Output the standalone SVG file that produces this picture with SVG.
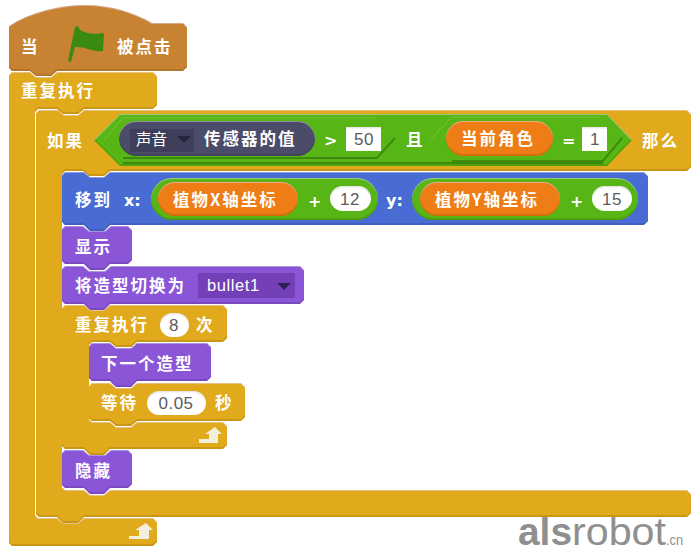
<svg xmlns="http://www.w3.org/2000/svg" width="700" height="554" viewBox="0 0 700 554">
<style>
.b{filter:url(#bev)}
.gold{fill:#E1A91A}.purple{fill:#8A55D7}.blue{fill:#4A6CD4}.hat{fill:#C88330}.green{fill:#59B512}.orange{fill:#EE7D16}
.dark{fill:#4B4B6B}.dd{fill:#3F3F5C}
.t{font-family:"Noto Sans CJK SC","Liberation Sans",sans-serif;font-weight:700;font-size:16.5px;letter-spacing:2px;fill:#fff}
.n{font-family:"Liberation Sans","DejaVu Sans",sans-serif;font-size:17px;fill:#5c5c5c;text-anchor:middle;letter-spacing:.5px}
.sm{font-family:"Noto Sans CJK SC","Liberation Sans",sans-serif;font-size:15.5px;fill:#fff}
.lat{font-family:"DejaVu Sans","Liberation Sans",sans-serif;font-weight:700;font-size:16px;fill:#fff}
.i{fill:#fff;filter:url(#ins)}
.sd{fill:none;stroke:#3f8a0c;stroke-width:2}
.lt{fill:none;stroke:#7cc83e;stroke-width:1;opacity:.8}
.ar{fill:#F4EFDC}
</style>
<defs>
<filter id="bev" x="-2%" y="-5%" width="104%" height="110%">
<feOffset in="SourceAlpha" dy="-2" result="u"/>
<feComposite in="SourceAlpha" in2="u" operator="out" result="lo"/>
<feFlood flood-color="#000" flood-opacity=".22"/><feComposite in2="lo" operator="in" result="loS"/>
<feOffset in="SourceAlpha" dy="1" result="d"/>
<feComposite in="SourceAlpha" in2="d" operator="out" result="hi"/>
<feFlood flood-color="#fff" flood-opacity=".22"/><feComposite in2="hi" operator="in" result="hiS"/>
<feMerge><feMergeNode in="SourceGraphic"/><feMergeNode in="loS"/><feMergeNode in="hiS"/></feMerge>
</filter>
<filter id="ins" x="-5%" y="-10%" width="110%" height="120%">
<feOffset in="SourceAlpha" dy="1.5" result="d"/>
<feComposite in="SourceAlpha" in2="d" operator="out" result="hi"/>
<feFlood flood-color="#000" flood-opacity=".2"/><feComposite in2="hi" operator="in" result="hiS"/>
<feMerge><feMergeNode in="SourceGraphic"/><feMergeNode in="hiS"/></feMerge>
</filter>
</defs>
<rect width="700" height="554" fill="#fff"/>

<g id="watermark">
<text x="518" y="545" font-family="'Liberation Sans',sans-serif" font-size="38" font-weight="700" fill="#8f8f8f" textLength="54" lengthAdjust="spacingAndGlyphs">als</text>
<text x="572" y="545" font-family="'Liberation Sans',sans-serif" font-size="38" fill="#8f8f8f" textLength="94" lengthAdjust="spacingAndGlyphs">robot</text>
<text x="666" y="545" font-family="'Liberation Sans',sans-serif" font-size="14" fill="#8f8f8f" textLength="17" lengthAdjust="spacingAndGlyphs">.cn</text>
</g>

<g id="forever">
<path class="gold b" d="M12,72H30L36,77H51L57,72H153L157,76V105L153,109H84L78,114H63L57,109H38L35,112V515L38,518H57L63,523H78L84,518H153L157,522V542L153,546H12L9,543V75Z"/>
<text class="t" x="21" y="97">重复执行</text>
<path class="ar" d="M129,536H139V530H135L146,523L153,530H149V539H129Z"/>
</g>

<g id="if-block">
<path class="gold b" d="M39,110H58L64,115H78L84,110H687L691,114V167L687,171H110L104,176H89L83,171H65L62,174V487L65,490H84L90,495H104L110,490H687L691,494V513L687,517H84L78,523H63L57,517H39L36,514V113Z"/>
<text class="t" x="47" y="147">如果</text>
<text class="t" x="642" y="147">那么</text>
</g>

<g id="condition">
<path class="green b" d="M120,114H607L632,140L607,166H120L94,140Z"/>
<path class="lt" d="M104,140L123,118H375M430,140L452,117H600"/>
<path class="sd" d="M123,158H377L395,138M452,161H603L622,138"/>
<path class="sd" d="M123,163H603"/>
<rect class="dark b" x="119" y="121" width="196" height="35" rx="17.5"/>
<rect class="dd" x="130" y="129" width="64" height="23"/>
<text class="sm" x="136" y="145">声音</text>
<path fill="#26263a" d="M177,136H191L184,143Z"/>
<text class="t" x="204" y="145">传感器的值</text>
<text class="lat" x="324" y="146" font-size="18">&gt;</text>
<rect class="i" x="346" y="127" width="35" height="24"/>
<text class="n" x="364" y="145">50</text>
<text class="t" x="406" y="146">且</text>
<rect class="orange b" x="446" y="121" width="107" height="35" rx="17.5"/>
<text class="t" x="461" y="145">当前角色</text>
<text class="lat" x="562" y="146">=</text>
<rect class="i" x="582" y="127" width="25" height="24"/>
<text class="n" x="595" y="145">1</text>
</g>

<g id="hide">
<path class="purple b" d="M65,450H83L89,455H105L111,450H128L132,454V484L128,488H110L104,494H90L84,488H65L62,485V453Z"/>
<text class="t" x="75" y="477">隐藏</text>
</g>

<g id="repeat">
<path class="gold b" d="M65,305H84L90,310H104L110,305H223L227,309V338L223,342H137L131,347H116L110,342H92L89,345V419L92,422H110L116,427H131L137,422H223L227,426V445L223,449H110L104,455H90L84,449H65L62,446V308Z"/>
<text class="t" x="75" y="331">重复执行</text>
<rect class="i" x="160" y="313" width="29" height="24" rx="12"/>
<text class="n" x="174" y="331">8</text>
<text class="t" x="196" y="331">次</text>
<path class="ar" d="M199,439H209V434H205L215,427L222,434H218V443H199Z"/>
</g>

<g id="wait">
<path class="gold b" d="M92,383H110L116,388H131L137,383H241L245,387V417L241,421H137L131,426H116L110,421H92L89,418V386Z"/>
<text class="t" x="101" y="409">等待</text>
<rect class="i" x="147" y="391" width="59" height="24" rx="12"/>
<text class="n" x="176" y="409">0.05</text>
<text class="t" x="215" y="409">秒</text>
</g>

<g id="next-costume">
<path class="purple b" d="M92,343H110L116,348H131L137,343H207L211,347V377L207,381H137L131,387H116L110,381H92L89,378V346Z"/>
<text class="t" x="101" y="370">下一个造型</text>
</g>

<g id="switch-costume">
<path class="purple b" d="M65,266H83L89,271H105L111,266H300L304,270V300L300,304H110L104,310H90L84,304H65L62,301V269Z"/>
<text class="t" x="75" y="292">将造型切换为</text>
<rect x="198" y="273" width="97" height="25" fill="#7340B8"/>
<text x="207" y="291" font-family="'Liberation Sans',sans-serif" font-size="16.5" fill="#fff" letter-spacing=".6">bullet1</text>
<path fill="#2e2056" d="M277,283H291L284,290Z"/>
</g>

<g id="show">
<path class="purple b" d="M65,226H83L89,231H105L111,226H128L132,230V260L128,264H110L104,270H90L84,264H65L62,261V229Z"/>
<text class="t" x="75" y="253">显示</text>
</g>

<g id="goto">
<path class="blue b" d="M65,172H84L90,177H104L110,172H644L648,176V221L644,225H110L104,231H90L84,225H65L62,222V175Z"/>
<text class="t" x="75" y="206">移到</text>
<text class="lat" x="124" y="206" font-size="15">x:</text>
<rect class="green b" x="151" y="178" width="227" height="42" rx="21"/>
<rect class="orange b" x="158" y="182" width="140" height="34" rx="17"/>
<text class="t" x="173" y="206" letter-spacing="1">植物X轴坐标</text>
<text class="lat" x="308" y="207" font-size="18">+</text>
<rect class="i" x="330" y="186" width="41" height="25" rx="12.5"/>
<text class="n" x="350" y="205">12</text>
<text class="lat" x="386" y="206" font-size="15">y:</text>
<rect class="green b" x="412" y="178" width="226" height="42" rx="21"/>
<rect class="orange b" x="420" y="182" width="140" height="34" rx="17"/>
<text class="t" x="435" y="206" letter-spacing="1">植物Y轴坐标</text>
<text class="lat" x="570" y="207" font-size="18">+</text>
<rect class="i" x="592" y="186" width="40" height="25" rx="12.5"/>
<text class="n" x="612" y="205">15</text>
</g>

<g id="hat">
<path class="hat b" d="M9,26C30,12 60,5 85,5C112,5 135,13 152,23H183L187,27V67L183,71H57L51,76H36L30,71H12L9,68Z"/>
<text class="t" x="21" y="53">当</text>
<path fill="#3A8A12" d="M68,61L75,27L78,26L80,30C86,33 92,35 104,33L103,51C94,53 86,46 75,47L71,62Z"/>
<text class="t" x="117" y="53">被点击</text>
</g>
</svg>
